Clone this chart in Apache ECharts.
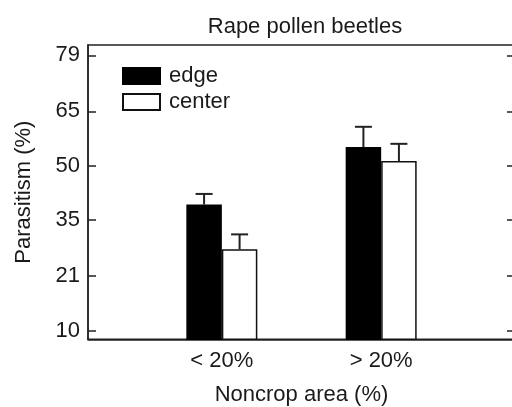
<!DOCTYPE html>
<html>
<head>
<meta charset="utf-8">
<script src="https://cdn.jsdelivr.net/npm/echarts@6/dist/echarts.min.js"></script>
<style>
  html, body { margin: 0; padding: 0; background: #fff; }
  #chart { width: 512px; height: 407px; }
</style>
</head>
<body>
<div id="chart"></div>
<script>
// Parasitism of rape pollen beetles by noncrop area class (%)
const categories = ['< 20%', '> 20%'];
const edgeValues = [39.2, 55.2];
const centerValues = [27.4, 51.3];
const edgeErrors = [2.9, 5.6];
const centerErrors = [3.8, 4.8];
const yTickLabels = [10, 21, 35, 50, 65, 79];
const yRangePercent = [8.65, 81.3];

// Percentages are plotted on an arcsine-square-root scale (degrees)
function toAxis(p) {
  return Math.asin(Math.sqrt(p / 100)) * 180 / Math.PI;
}
function fromAxis(d) {
  const s = Math.sin(d * Math.PI / 180);
  return s * s * 100;
}

const FONT = 'Liberation Sans, Arial, Helvetica, sans-serif';
const INK = '#1a1a1a';
const LINE = '#222';
const BAR_W = 35.5;
const FS = 22;

const yTickPos = yTickLabels.map(toAxis);

function barData(vals) {
  return vals.map((v, i) => [i + 1, toAxis(v)]);
}
function errData(vals, errs, side) {
  return vals.map((v, i) => [i + 1, toAxis(v), toAxis(v + errs[i]), side]);
}

// Upper standard-error whisker with a short cap
function renderError(params, api) {
  const x = api.value(0);
  const base = api.coord([x, api.value(1)]);
  const top = api.coord([x, api.value(2)]);
  const cx = base[0] + api.value(3) * BAR_W / 2;
  const half = 8.5;
  const style = { stroke: LINE, lineWidth: 2 };
  return {
    type: 'group',
    children: [
      { type: 'line', shape: { x1: cx, y1: base[1], x2: cx, y2: top[1] }, style: style },
      { type: 'line', shape: { x1: cx - half, y1: top[1], x2: cx + half, y2: top[1] }, style: style }
    ]
  };
}

const chart = echarts.init(document.getElementById('chart'));
chart.setOption({
  backgroundColor: '#fff',
  animation: false,
  title: {
    text: 'Rape pollen beetles',
    left: 300,
    textAlign: 'center',
    top: 11,
    textStyle: { fontFamily: FONT, fontSize: FS, fontWeight: 'normal', color: INK }
  },
  legend: {
    orient: 'vertical',
    left: 122,
    top: 65,
    padding: 0,
    itemWidth: 37,
    itemHeight: 16,
    itemGap: 4,
    icon: 'rect',
    textStyle: { fontFamily: FONT, fontSize: FS, color: INK, padding: [0, 0, 0, 4] },
    data: ['edge', 'center']
  },
  grid: {
    left: 88, top: 45, right: -3, bottom: 67.7,
    outerBoundsMode: 'none',
    containLabel: false,
    show: true, borderColor: LINE, borderWidth: 1.5, backgroundColor: 'transparent'
  },
  xAxis: {
    type: 'value',
    min: 0.16,
    max: 2.84,
    splitLine: { show: false },
    axisTick: { show: false },
    axisLine: { show: true, lineStyle: { color: LINE, width: 1.5 } },
    axisLabel: {
      customValues: [1, 2],
      formatter: v => categories[Math.round(v) - 1] || '',
      fontFamily: FONT, fontSize: FS, color: INK, margin: 11
    },
    name: 'Noncrop area (%)',
    nameLocation: 'middle',
    nameGap: 45,
    nameTextStyle: { fontFamily: FONT, fontSize: FS, color: INK }
  },
  yAxis: [{
    type: 'value',
    min: toAxis(yRangePercent[0]),
    max: toAxis(yRangePercent[1]),
    splitLine: { show: false },
    axisLine: { show: true, lineStyle: { color: LINE, width: 1.5 } },
    axisTick: {
      inside: true, length: 8, customValues: yTickPos,
      lineStyle: { color: LINE, width: 1.5 }
    },
    axisLabel: {
      customValues: yTickPos,
      formatter: v => String(Math.round(fromAxis(v))),
      fontFamily: FONT, fontSize: FS, color: INK, margin: 8
    },
    name: 'Parasitism (%)',
    nameLocation: 'middle',
    nameRotate: 90,
    nameGap: 53,
    nameTextStyle: { fontFamily: FONT, fontSize: FS, color: INK }
  }, {
    type: 'value',
    position: 'right',
    min: toAxis(yRangePercent[0]),
    max: toAxis(yRangePercent[1]),
    splitLine: { show: false },
    axisLine: { show: false },
    axisLabel: { show: false },
    axisTick: {
      inside: true, length: 8, customValues: yTickPos,
      lineStyle: { color: LINE, width: 1.5 }
    }
  }],
  series: [
    {
      name: 'edge', type: 'bar', barWidth: BAR_W, barGap: '0%',
      data: barData(edgeValues),
      itemStyle: { color: '#000', borderColor: '#000', borderWidth: 1.5 }
    },
    {
      name: 'center', type: 'bar', barWidth: BAR_W, barGap: '0%',
      data: barData(centerValues),
      itemStyle: { color: '#fff', borderColor: '#111', borderWidth: 1.5 }
    },
    {
      type: 'custom', renderItem: renderError, z: 1,
      data: errData(edgeValues, edgeErrors, -1)
    },
    {
      type: 'custom', renderItem: renderError, z: 1,
      data: errData(centerValues, centerErrors, 1)
    }
  ]
});
</script>
</body>
</html>
